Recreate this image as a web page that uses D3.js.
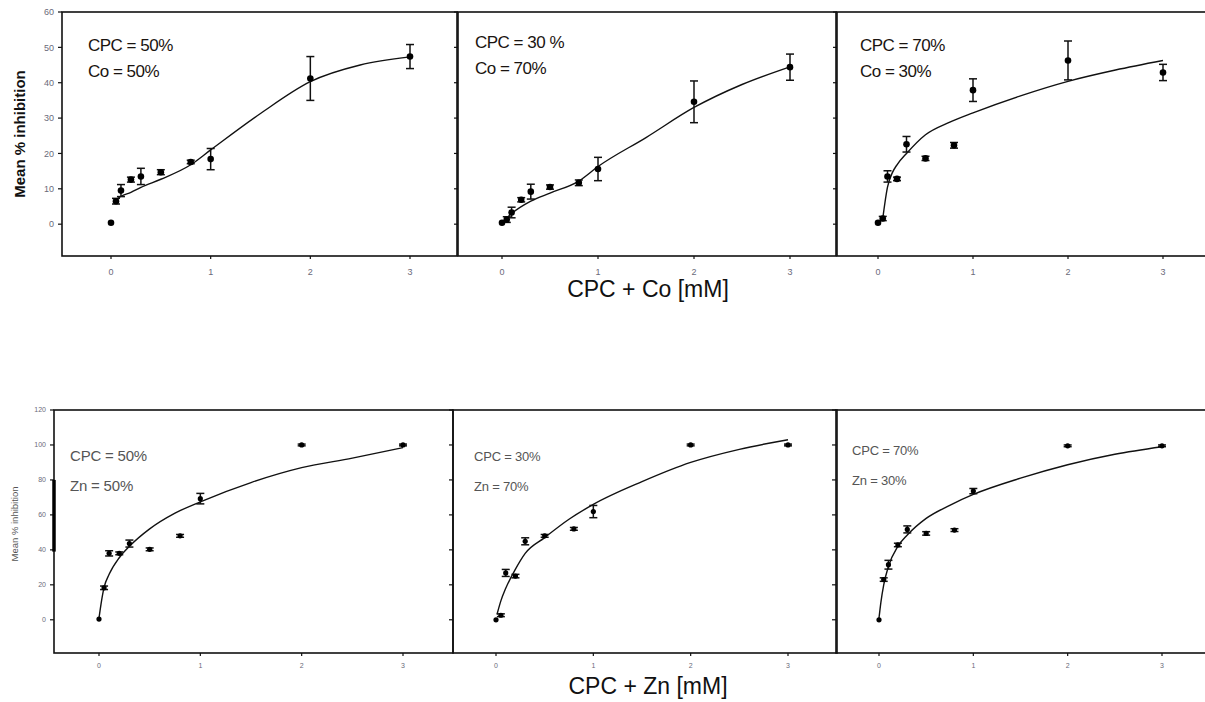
<!DOCTYPE html>
<meta charset="utf-8">
<style>
  body { margin: 0; background: #fff; }
  text { font-family: "Liberation Sans", Arial, sans-serif; }
</style>
<body>
<script src="https://cdn.jsdelivr.net/npm/d3@7"></script>
<script>
// concentrations (mM) used in every panel
var conc = [0, 0.05, 0.1, 0.2, 0.3, 0.5, 0.8, 1, 2, 3];

// CPC + Co, mean % inhibition and error
var co5050Mean = [0.4, 6.5, 9.5, 12.6, 13.5, 14.7, 17.6, 18.4, 41.2, 47.4];
var co5050Err  = [0, 0.8, 1.7, 0.7, 2.3, 0.7, 0.5, 3, 6.2, 3.4];
var co3070Mean = [0.4, 1.3, 3.3, 6.9, 9.2, 10.5, 11.7, 15.6, 34.6, 44.4];
var co3070Err  = [0, 0.8, 1.5, 0.6, 2.1, 0.6, 0.8, 3.3, 5.9, 3.7];
var co7030Mean = [0.4, 1.6, 13.5, 12.8, 22.6, 18.6, 22.3, 37.9, 46.3, 42.9];
var co7030Err  = [0, 0.6, 1.6, 0.5, 2.2, 0.6, 0.8, 3.2, 5.5, 2.3];

// CPC + Zn
var zn5050Mean = [0.4, 18.3, 38, 38, 43.6, 40.3, 48, 69.3, 100, 100];
var zn5050Err  = [0, 1, 1.5, 0.8, 2, 0.8, 0.8, 3, 0.5, 0.5];
var zn3070Mean = [0, 2.6, 26.8, 25, 44.9, 48, 52, 61.9, 100, 100];
var zn3070Err  = [0, 0.8, 2, 1, 2, 0.8, 0.8, 3.5, 0.5, 0.5];
var zn7030Mean = [0, 23, 31.5, 42.8, 51.7, 49.4, 51.3, 73.6, 99.5, 99.5];
var zn7030Err  = [0, 1, 2.5, 1, 2, 1, 0.8, 1.5, 0.5, 0.5];

// fitted curves
var fitCo5050X = [0.03, 0.1, 0.2, 0.3, 0.5, 0.8, 1, 1.5, 2, 2.5, 3];
var fitCo5050Y = [6.5, 7.9, 9, 10.4, 12.7, 16.8, 21, 31.3, 40.3, 45, 47.3];
var fitCo3070X = [0, 0.1, 0.3, 0.5, 0.8, 1, 1.5, 2, 2.5, 3];
var fitCo3070Y = [0.5, 3, 6.5, 8.8, 12.2, 16.3, 24.5, 33, 39.5, 44.5];
var fitCo7030X = [0.05, 0.1, 0.15, 0.2, 0.3, 0.5, 0.75, 1, 1.5, 2, 2.5, 3];
var fitCo7030Y = [1.6, 10.5, 14.5, 16.8, 20, 25.3, 28.8, 31.5, 36.3, 40.4, 43.6, 46.3];
var fitZn5050X = [0, 0.02, 0.05, 0.1, 0.2, 0.3, 0.5, 0.75, 1, 1.5, 2, 2.5, 3];
var fitZn5050Y = [1, 9, 18.5, 26, 35.5, 42, 52, 61, 67.5, 78.5, 87, 92.5, 98.5];
var fitZn3070X = [0.01, 0.05, 0.1, 0.2, 0.3, 0.5, 0.75, 1, 1.5, 2, 2.5, 3];
var fitZn3070Y = [3, 10.8, 18, 29, 38, 47, 57.5, 66, 79, 90, 97.5, 103];
var fitZn7030X = [0, 0.02, 0.05, 0.1, 0.2, 0.3, 0.5, 0.75, 1, 1.5, 2, 2.5, 3];
var fitZn7030Y = [1, 10, 20, 30.5, 42, 48.5, 58, 65.5, 71.7, 81, 88.7, 94.7, 99];

var xTicks = [0, 1, 2, 3];
var coTicks = [0, 10, 20, 30, 40, 50, 60];
var znTicks = [0, 20, 40, 60, 80, 100, 120];

var svg = d3.select("body").append("svg")
    .attr("width", 1205)
    .attr("height", 702);

// two rows of three panels
var rows = [
  { top: 12, bottom: 256, yDom: [-9, 60], yTicks: coTicks, big: true,
    title: "CPC + Co [mM]", titleY: 297,
    panels: [
      { left: 62,  right: 457,  x0: 111, x3: 410,  mean: co5050Mean, err: co5050Err, fx: fitCo5050X, fy: fitCo5050Y, lab: ["CPC = 50%", "Co = 50%"], lx: 88,  ly: 51 },
      { left: 458, right: 836,  x0: 502, x3: 790,  mean: co3070Mean, err: co3070Err, fx: fitCo3070X, fy: fitCo3070Y, lab: ["CPC = 30 %", "Co = 70%"], lx: 475, ly: 48 },
      { left: 837, right: 1215, x0: 878, x3: 1163, mean: co7030Mean, err: co7030Err, fx: fitCo7030X, fy: fitCo7030Y, lab: ["CPC = 70%", "Co = 30%"], lx: 860, ly: 51 }
    ] },
  { top: 410, bottom: 653, yDom: [-19, 120], yTicks: znTicks, big: false,
    title: "CPC + Zn [mM]", titleY: 694,
    panels: [
      { left: 54,  right: 453,  x0: 99,  x3: 403,  mean: zn5050Mean, err: zn5050Err, fx: fitZn5050X, fy: fitZn5050Y, lab: ["CPC = 50%", "Zn = 50%"], lx: 70,  ly: 461, fs: 15 },
      { left: 453, right: 837,  x0: 496, x3: 788,  mean: zn3070Mean, err: zn3070Err, fx: fitZn3070X, fy: fitZn3070Y, lab: ["CPC = 30%", "Zn = 70%"], lx: 474, ly: 461, fs: 13 },
      { left: 836, right: 1215, x0: 879, x3: 1162, mean: zn7030Mean, err: zn7030Err, fx: fitZn7030X, fy: fitZn7030Y, lab: ["CPC = 70%", "Zn = 30%"], lx: 852, ly: 455, fs: 13 }
    ] }
];

rows.forEach(function(row) {
  var y = d3.scaleLinear().domain(row.yDom).range([row.bottom, row.top]);

  row.panels.forEach(function(p, pi) {
    var x = d3.scaleLinear().domain([0, 3]).range([p.x0, p.x3]);
    var g = svg.append("g");

    // frame
    g.append("rect")
        .attr("x", p.left).attr("y", row.top)
        .attr("width", p.right - p.left).attr("height", row.bottom - row.top)
        .attr("fill", "none").attr("stroke", "#111").attr("stroke-width", 1.6);

    // y ticks on the left border
    g.selectAll(".yt").data(row.yTicks).enter().append("line")
        .attr("x1", p.left - 4).attr("x2", p.left)
        .attr("y1", function(d) { return y(d); }).attr("y2", function(d) { return y(d); })
        .attr("stroke", "#111").attr("stroke-width", 1.2);

    if (pi == 0) {
      g.selectAll(".yl").data(row.yTicks).enter().append("text")
          .attr("x", p.left - 8).attr("y", function(d) { return y(d); })
          .attr("dy", "0.35em")
          .attr("text-anchor", "end")
          .style("font-size", row.big ? "9px" : "7px")
          .style("fill", "#6a6a7a")
          .text(function(d) { return d; });
    }

    // x ticks
    g.selectAll(".xt").data(xTicks).enter().append("line")
        .attr("x1", function(d) { return x(d); }).attr("x2", function(d) { return x(d); })
        .attr("y1", row.bottom).attr("y2", row.bottom + 3)
        .attr("stroke", "#111").attr("stroke-width", 1.2);
    g.selectAll(".xl").data(xTicks).enter().append("text")
        .attr("x", function(d) { return x(d); })
        .attr("y", row.bottom + (row.big ? 19 : 15))
        .attr("text-anchor", "middle")
        .style("font-size", row.big ? "9px" : "7px")
        .style("fill", "#6a6a7a")
        .text(function(d) { return d; });

    // fitted curve
    var pts = p.fx.map(function(v, i) { return [x(v), y(p.fy[i])]; });
    g.append("path")
        .attr("d", d3.line().curve(d3.curveMonotoneX)(pts))
        .attr("fill", "none").attr("stroke", "#111").attr("stroke-width", 1.4);

    // error bars
    var cap = 4;
    var eb = g.selectAll(".eb").data(conc).enter().append("g")
        .filter(function(d, i) { return p.err[i] > 0.4; });
    eb.append("line")
        .attr("x1", function(d) { return x(d); }).attr("x2", function(d) { return x(d); })
        .attr("y1", function(d) { var i = conc.indexOf(d); return y(p.mean[i] - p.err[i]); })
        .attr("y2", function(d) { var i = conc.indexOf(d); return y(p.mean[i] + p.err[i]); })
        .attr("stroke", "#111").attr("stroke-width", 1.5);
    [-1, 1].forEach(function(s) {
      eb.append("line")
          .attr("x1", function(d) { return x(d) - cap; }).attr("x2", function(d) { return x(d) + cap; })
          .attr("y1", function(d) { var i = conc.indexOf(d); return y(p.mean[i] + s * p.err[i]); })
          .attr("y2", function(d) { var i = conc.indexOf(d); return y(p.mean[i] + s * p.err[i]); })
          .attr("stroke", "#111").attr("stroke-width", 1.5);
    });

    // points
    g.selectAll(".pt").data(conc).enter().append("circle")
        .attr("cx", function(d) { return x(d); })
        .attr("cy", function(d, i) { return y(p.mean[i]); })
        .attr("r", row.big ? 3.3 : 2.6)
        .attr("fill", "#000");

    // panel labels
    var fs = p.fs || 17;
    p.lab.forEach(function(t, k) {
      g.append("text")
          .attr("x", p.lx)
          .attr("y", p.ly + k * (row.big ? 26 : 30))
          .style("font-size", fs + "px")
          .style("letter-spacing", row.big ? "-0.5px" : "-0.2px")
          .style("fill", row.big ? "#1a1410" : "#555")
          .text(t);
    });
  });

  // axis titles
  svg.append("text")
      .attr("x", 648).attr("y", row.titleY)
      .attr("text-anchor", "middle")
      .style("font-size", "23px")
      .style("fill", "#111")
      .text(row.title);

  var yl = row.big ? { x: 25, y: 134, fs: 15 } : { x: 18, y: 524, fs: 9.5 };
  svg.append("text")
      .attr("transform", "translate(" + yl.x + "," + yl.y + ") rotate(-90)")
      .attr("text-anchor", "middle")
      .style("font-size", yl.fs + "px")
      .style("font-weight", row.big ? "bold" : "normal")
      .style("fill", row.big ? "#111" : "#555")
      .text("Mean % inhibition");
});

// thick stroke on the lower-left axis, as in the scan
var yZn = d3.scaleLinear().domain([-19, 120]).range([653, 410]);
svg.append("line")
    .attr("x1", 54).attr("x2", 54)
    .attr("y1", yZn(80)).attr("y2", yZn(39))
    .attr("stroke", "#000").attr("stroke-width", 3.5);
</script>
</body>
